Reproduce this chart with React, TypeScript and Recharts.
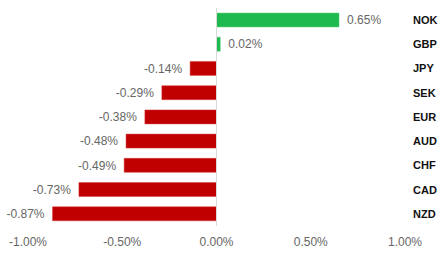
import React from "react";
import { BarChart, Bar, XAxis, YAxis, Cell, ReferenceLine, LabelList } from "recharts";

const currencies = ["NOK", "GBP", "JPY", "SEK", "EUR", "AUD", "CHF", "CAD", "NZD"];
const changes = [0.65, 0.02, -0.14, -0.29, -0.38, -0.48, -0.49, -0.73, -0.87];
const xTicks = [-1, -0.5, 0, 0.5, 1];

const data = currencies.map((c, i) => ({ name: c, value: changes[i] }));

const FONT = "'Liberation Sans', Arial, sans-serif";

const ValueLabel = (props: any) => {
  const { x, y, width, height, value } = props;
  const left = Math.min(x, x + width);
  const right = Math.max(x, x + width);
  const pos = value >= 0;
  return (
    <text
      x={pos ? right + 8 : left - 8}
      y={y + height / 2}
      dy="0.35em"
      textAnchor={pos ? "start" : "end"}
      fill="#666"
      fontSize={12}
      fontFamily={FONT}
    >
      {value.toFixed(2)}%
    </text>
  );
};

const YTick = (props: any) => {
  const { x, y, payload } = props;
  return (
    <text x={413} y={y} dy="0.35em" textAnchor="start" fill="#111" fontSize={11} fontWeight="bold" fontFamily={FONT}>
      {payload.value}
    </text>
  );
};

export default function App() {
  return (
    <div style={{ position: "absolute", left: 0, top: 0, background: "#fff" }}>
      <BarChart
        width={440}
        height={254}
        data={data}
        layout="vertical"
        margin={{ top: 8, right: 0, bottom: 0, left: 28 }}
      >
        <XAxis
          type="number"
          domain={[-1, 1]}
          ticks={xTicks}
          tickFormatter={(v: number) => v.toFixed(2) + "%"}
          axisLine={false}
          tickLine={false}
          height={28}
          tick={{ fill: "#666", fontSize: 12, fontFamily: FONT }}
          tickMargin={5}
        />
        <YAxis
          type="category"
          dataKey="name"
          orientation="right"
          width={35}
          axisLine={false}
          tickLine={false}
          tick={<YTick />}
        />
        <ReferenceLine x={0} stroke="#d9d9d9" strokeWidth={1} />
        <Bar dataKey="value" barSize={14} isAnimationActive={false}>
          {data.map((d, i) => (
            <Cell key={i} fill={d.value >= 0 ? "#1fba4f" : "#c00000"} stroke={d.value >= 0 ? "#5fd17f" : "#d84040"} strokeWidth={0.5} />
          ))}
          <LabelList dataKey="value" content={<ValueLabel />} />
        </Bar>
      </BarChart>
    </div>
  );
}
